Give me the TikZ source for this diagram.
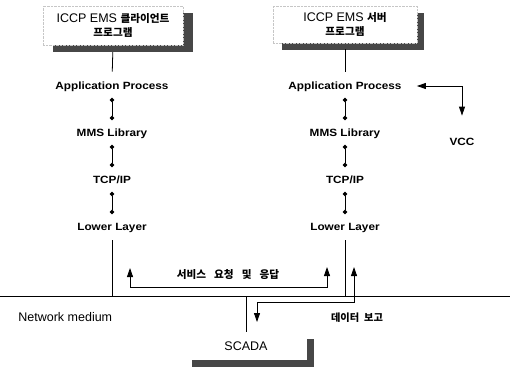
\documentclass[tikz,border=0pt]{standalone}
\usepackage{fontspec}
\setmainfont{Liberation Sans}
\newfontfamily\lab{Liberation Sans}[FakeStretch=1.12]
\newfontfamily\kr{Noto Sans CJK KR}[Scale=0.85]
\usetikzlibrary{arrows.meta,shadows}
\begin{document}
\begin{tikzpicture}[x=1pt,y=-1pt,
  line width=0.8pt,
  titlebox/.style={draw=gray!45, densely dotted, line width=0.4pt, fill=white, align=center,
    font=\fontsize{12.5}{14.5}\selectfont, inner sep=0pt},
  layer/.style={font=\lab\bfseries\fontsize{10.5}{12}\selectfont, inner sep=0pt,
    text height=8pt, text depth=2pt},
  plain/.style={font=\fontsize{12.5}{14}\selectfont, inner sep=0pt},
  link/.style={{Circle[length=4.2pt]}-{Circle[length=4.2pt]}, shorten <=6.5pt, shorten >=7.5pt},
  tips/.style={{Triangle[length=9pt,width=6pt]}-{Triangle[length=9pt,width=6pt]}},
  shade/.style={fill=black!72},
]
\useasboundingbox (0,0) rectangle (510,370);

% title boxes
\fill[shade] (53,13) rectangle (193,52);
\node[titlebox, minimum width=140pt, minimum height=39pt] (cbox) at (113,25.5)
  {ICCP EMS {\kr\bfseries 클라이언트}\\{\kr\bfseries 프로그램}};
\fill[shade] (282,13) rectangle (424,50);
\node[titlebox, minimum width=144pt, minimum height=37pt] (sbox) at (345,24.5)
  {ICCP EMS {\kr\bfseries 서버}\\{\kr\bfseries 프로그램}};
\fill[shade] (192,339) rectangle (314,367);
\node[titlebox, draw=none, minimum width=122pt, minimum height=28pt] (scada) at (246,346) {SCADA};

% layers left
\node[layer] (ap1) at (112,86) {Application Process};
\node[layer] (mms1) at (112,133) {MMS Library};
\node[layer] (tcp1) at (112,180) {TCP/IP};
\node[layer] (low1) at (112,227) {Lower Layer};
% layers right
\node[layer] (ap2) at (345,86) {Application Process};
\node[layer] (mms2) at (345,133) {MMS Library};
\node[layer] (tcp2) at (345,180) {TCP/IP};
\node[layer] (low2) at (345,227) {Lower Layer};
\node[layer] (vcc) at (462,142) {VCC};

% network
\coordinate (netL) at (0,296);
\coordinate (netR) at (510,296);
\draw (netL) -- (netR);
\node[plain, anchor=west] (net) at (18,317) {Network medium};

% connectors
\draw[shorten <=7pt, shorten >=9pt] (cbox.south) -- (ap1.north);
\draw[shorten <=6pt, shorten >=9pt] (sbox.south) -- (ap2.north);
\draw[link] (ap1) -- (mms1);
\draw[link] (mms1) -- (tcp1);
\draw[link] (tcp1) -- (low1);
\draw[link] (ap2) -- (mms2);
\draw[link] (mms2) -- (tcp2);
\draw[link] (tcp2) -- (low2);
\draw[shorten <=8pt] (low1) -- (low1 |- netL);
\draw[shorten <=8pt] (low2) -- (low2 |- netL);
\draw (scada) -- (scada |- netL);

% VCC
\coordinate (vc) at (462,86);
\draw[tips, shorten <=15pt, shorten >=21pt] (ap2) -- (vc) -- (vcc);

% service request / response
\coordinate (sA) at (130,268);
\coordinate (sB) at (130,287);
\coordinate (sC) at (327,287);
\coordinate (sD) at (327,267);
\draw[tips] (sA) -- (sB) -- (sC) -- (sD);
\node[font=\kr\bfseries\fontsize{12.5}{14}\selectfont, inner sep=0pt] (svc) at (228,275)
  {서비스\hspace{8pt}요청\hspace{8pt}및\hspace{8pt}응답};

% data report
\coordinate (dA) at (257,322);
\coordinate (dB) at (257,302);
\coordinate (dC) at (354,302);
\coordinate (dD) at (354,267);
\draw[tips] (dA) -- (dB) -- (dC) -- (dD);
\node[font=\kr\bfseries\fontsize{12}{14}\selectfont, inner sep=0pt] (rep) at (357,318)
  {데이터\hspace{5pt}보고};
\end{tikzpicture}
\end{document}
